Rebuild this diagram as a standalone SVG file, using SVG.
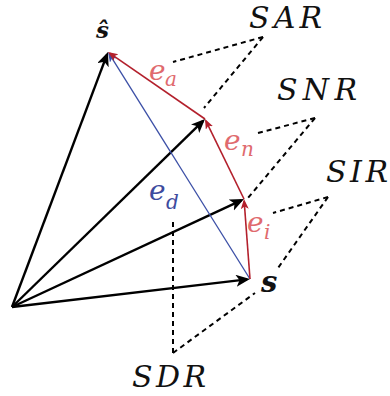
<svg xmlns="http://www.w3.org/2000/svg" width="390" height="396" viewBox="0 0 390 396">
<style>
.vec{stroke:#000;stroke-width:2.4;fill:none;marker-end:url(#ab)}
.err{stroke:#b3202c;stroke-width:1.6;fill:none;marker-end:url(#ar)}
.dist{stroke:#3b4fa6;stroke-width:1.3;fill:none;marker-end:url(#abl)}
.dash{stroke:#000;stroke-width:2;fill:none;stroke-dasharray:5 4}
.lbl{font-family:"DejaVu Serif","Liberation Serif",serif;font-style:italic;font-size:30px;fill:#111}
.el{font-family:"DejaVu Serif","Liberation Serif",serif;font-style:italic;fill:#e06a6e}
.ed{font-family:"DejaVu Serif","Liberation Serif",serif;font-style:italic;fill:#3d4b9e}
.bs{font-family:"DejaVu Serif","Liberation Serif",serif;font-style:italic;font-weight:bold;fill:#111}
</style>
<defs>
<marker id="ab" markerUnits="userSpaceOnUse" markerWidth="16" markerHeight="14" refX="11" refY="6" orient="auto"><path d="M0,0 L14,6 L0,12 L3.5,6 z" fill="#000"/></marker>
<marker id="ar" markerUnits="userSpaceOnUse" markerWidth="12" markerHeight="10" refX="8" refY="4" orient="auto"><path d="M0,0 L10,4 L0,8 L2.5,4 z" fill="#b3202c"/></marker>
<marker id="abl" markerUnits="userSpaceOnUse" markerWidth="12" markerHeight="10" refX="8" refY="4" orient="auto"><path d="M0,0 L10,4 L0,8 L2.5,4 z" fill="#3b4fa6"/></marker>
</defs>
<g id="connectors">
<line class="dash" x1="263" y1="37" x2="173" y2="62"/>
<line class="dash" x1="263" y1="37" x2="204" y2="108"/>
<line class="dash" x1="315" y1="118" x2="258" y2="133"/>
<line class="dash" x1="315" y1="118" x2="248" y2="198"/>
<line class="dash" x1="328" y1="197" x2="273" y2="213"/>
<line class="dash" x1="328" y1="197" x2="278" y2="268"/>
<line class="dash" x1="173" y1="353" x2="173" y2="218"/>
<line class="dash" x1="173" y1="353" x2="255" y2="293"/>
<line class="vec" x1="12" y1="307" x2="106.9" y2="54.8"/>
<line class="vec" x1="12" y1="307" x2="202.9" y2="121.1"/>
<line class="vec" x1="12" y1="307" x2="241.3" y2="200.3"/>
<line class="vec" x1="12" y1="307" x2="247.0" y2="279.4"/>
<line class="dist" x1="250" y1="279" x2="109.1" y2="53.7"/>
<line class="err" x1="250" y1="279" x2="244.15" y2="201"/>
<line class="err" x1="244" y1="199" x2="205.9" y2="120.8"/>
<line class="err" x1="205" y1="119" x2="109.6" y2="53.1"/>
</g>
<g id="shat"><text class="bs" x="96" y="38" font-size="23">ŝ</text></g>
<g id="s"><text class="bs" x="261" y="292" font-size="29">s</text></g>
<g id="SAR"><text class="lbl" x="249" y="28" textLength="73" lengthAdjust="spacing">SAR</text></g>
<g id="SNR"><text class="lbl" x="277" y="100" textLength="80" lengthAdjust="spacing">SNR</text></g>
<g id="SIR"><text class="lbl" x="326" y="182" textLength="62" lengthAdjust="spacing">SIR</text></g>
<g id="SDR"><text class="lbl" x="132" y="387" textLength="74" lengthAdjust="spacing">SDR</text></g>
<g id="ea"><text class="el" x="149" y="80" font-size="28">e</text><text class="el" x="165" y="86" font-size="20">a</text></g>
<g id="en"><text class="el" x="224" y="150" font-size="28">e</text><text class="el" x="241" y="156" font-size="20">n</text></g>
<g id="ed"><text class="ed" x="149" y="200" font-size="28">e</text><text class="ed" x="166" y="209" font-size="20">d</text></g>
<g id="ei"><text class="el" x="247" y="232" font-size="28">e</text><text class="el" x="264" y="239" font-size="20">i</text></g>
</svg>
